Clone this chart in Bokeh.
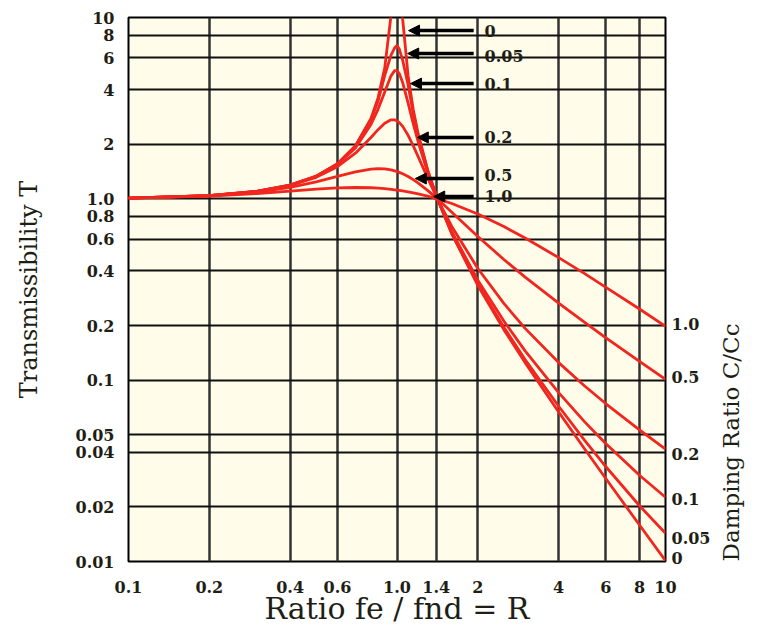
from math import pi
from bokeh.plotting import figure
from bokeh.models import (FixedTicker, LabelSet, ColumnDataSource, Arrow,
                          NormalHead, Range1d, LogAxis)
from bokeh.core.properties import value
from bokeh.embed import file_html
from bokeh.resources import INLINE

# ---------------- data ----------------
ratio = [0.1, 0.2, 0.3, 0.4, 0.5, 0.6, 0.7, 0.8, 0.85, 0.9, 0.95, 0.98, 1.0, 1.02,
         1.05, 1.1, 1.15, 1.2, 1.3, 1.414, 1.6, 2.0, 2.5, 3.0, 4.0, 5.0, 6.0, 8.0, 10.0]

t_0 = [1.010, 1.042, 1.099, 1.190, 1.333, 1.563, 1.961, 2.778, 3.604, 5.263, 10.26, 25.3,
       400.0, 24.8, 9.76, 4.76, 3.10, 2.273, 1.449, 1.0, 0.641, 0.333, 0.190, 0.125,
       0.0667, 0.0417, 0.0286, 0.0159, 0.0101]
t_005 = [1.010, 1.042, 1.099, 1.190, 1.332, 1.558, 1.947, 2.720, 3.458, 4.776, 6.2, 6.8,
         7.0, 6.7, 5.8, 4.244, 2.940, 2.208, 1.436, 1.0, 0.646, 0.339, 0.196, 0.130,
         0.0718, 0.0466, 0.0333, 0.0203, 0.0143]
t_01 = [1.010, 1.042, 1.099, 1.189, 1.328, 1.547, 1.909, 2.571, 3.117, 3.882, 4.766, 5.096,
        5.099, 4.908, 4.373, 3.367, 2.590, 2.052, 1.401, 1.0, 0.659, 0.356, 0.212, 0.145,
        0.0853, 0.0589, 0.0446, 0.0299, 0.0226]
t_02 = [1.010, 1.041, 1.097, 1.184, 1.314, 1.505, 1.785, 2.180, 2.407, 2.611, 2.727, 2.726,
        2.693, 2.634, 2.509, 2.241, 1.959, 1.704, 1.305, 1.0, 0.704, 0.413, 0.265, 0.193,
        0.125, 0.0929, 0.0741, 0.0532, 0.0416]
t_05 = [1.010, 1.040, 1.090, 1.158, 1.240, 1.329, 1.409, 1.460, 1.468, 1.463, 1.444, 1.428,
        1.414, 1.399, 1.374, 1.328, 1.276, 1.222, 1.114, 1.0, 0.844, 0.620, 0.463, 0.370,
        0.266, 0.208, 0.171, 0.127, 0.101]
t_10 = [1.010, 1.036, 1.070, 1.104, 1.131, 1.149, 1.155, 1.151, 1.145, 1.138, 1.129, 1.122,
        1.118, 1.114, 1.106, 1.094, 1.080, 1.066, 1.036, 1.0, 0.942, 0.825, 0.703, 0.608,
        0.474, 0.387, 0.325, 0.247, 0.198]

damping_names = ["0", "0.05", "0.1", "0.2", "0.5", "1.0"]

x_ticks = [0.1, 0.2, 0.4, 0.6, 1.0, 1.4, 2.0, 4.0, 6.0, 8.0, 10.0]
x_tick_labels = ["0.1", "0.2", "0.4", "0.6", "1.0", "1.4", "2", "4", "6", "8", "10"]
y_ticks = [0.01, 0.02, 0.04, 0.05, 0.1, 0.2, 0.4, 0.6, 0.8, 1.0, 2.0, 4.0, 6.0, 8.0, 10.0]
y_tick_labels = ["0.01", "0.02", "0.04", "0.05", "0.1", "0.2", "0.4", "0.6", "0.8", "1.0",
                 "2", "4", "6", "8", "10"]

x_title = "Ratio fe / fnd = R"
y_title = "Transmissibility T"
right_title = "Damping Ratio C/Cc"

# ---------------- annotation placement ----------------
arrow_y = [8.47, 6.33, 4.32, 2.18, 1.294, 1.03]
arrow_x_end = [1.104, 1.096, 1.123, 1.19, 1.17, 1.37]
arrow_x_start = 1.93
top_label_y = [8.47, 6.17, 4.32, 2.18, 1.345, 1.043]
top_label_x = 2.12
right_label_y = [0.0105, 0.01356, 0.02224, 0.0394, 0.1035, 0.2028]

FONT = "DejaVu Serif"
TXT = "#1e1e14"
BG = "#FFFCEA"
RED = "#F0261F"

p = figure(width=772, height=631, x_axis_type="log", y_axis_type="log",
           x_range=Range1d(0.1, 10), y_range=Range1d(0.01, 10),
           output_backend="svg", toolbar_location=None,
           min_border_left=128, min_border_right=107, min_border_top=17,
           min_border_bottom=70)
p.background_fill_color = BG
p.border_fill_color = "white"
p.outline_line_color = "black"
p.outline_line_width = 2

p.xgrid.ticker = FixedTicker(ticks=x_ticks)
p.ygrid.ticker = FixedTicker(ticks=y_ticks)
p.xgrid.grid_line_color = "#333333"
p.xgrid.grid_line_width = 2.5
p.ygrid.grid_line_color = "#111111"
p.ygrid.grid_line_width = 2


def style_axis(ax, standoff):
    ax.axis_line_color = None
    ax.major_tick_line_color = None
    ax.minor_tick_line_color = None
    ax.major_tick_in = 0
    ax.major_tick_out = 0
    ax.major_label_standoff = standoff
    ax.major_label_text_font = FONT
    ax.major_label_text_font_style = "bold"
    ax.major_label_text_font_size = "16px"
    ax.major_label_text_color = TXT
    ax.axis_label_text_font = FONT
    ax.axis_label_text_font_style = "normal"
    ax.axis_label_text_color = TXT


xa = p.xaxis[0]
xa.ticker = FixedTicker(ticks=x_ticks)
xa.major_label_overrides = dict(zip(x_ticks, x_tick_labels))
style_axis(xa, 19)
xa.axis_label = x_title
xa.axis_label_text_font_size = "30px"
xa.axis_label_standoff = -5

ya = p.yaxis[0]
ya.ticker = FixedTicker(ticks=y_ticks)
ya.major_label_overrides = dict(zip(y_ticks, y_tick_labels))
style_axis(ya, 14)
ya.axis_label = y_title
ya.axis_label_text_font_size = "24px"
ya.axis_label_standoff = 30

ra = LogAxis(ticker=FixedTicker(ticks=right_label_y),
             major_label_overrides=dict(zip(right_label_y, damping_names)))
style_axis(ra, 6)
ra.axis_label = right_title
ra.axis_label_text_font_size = "23px"
ra.axis_label_standoff = 18
try:
    ra.axis_label_orientation = pi / 2
except AttributeError:
    pass
try:
    ra.axis_label_align = "start"
except (AttributeError, ValueError):
    pass
p.add_layout(ra, "right")

for ys in [t_0, t_005, t_01, t_02, t_05, t_10]:
    p.line(ratio, ys, line_color=RED, line_width=2.8, line_join="round")

# top damping labels with arrows (inside the plot area)
top_src = ColumnDataSource(dict(y=top_label_y, text=damping_names))
p.add_layout(LabelSet(x=top_label_x, y="y", text="text", source=top_src,
                      text_align="left", text_baseline="middle",
                      text_font=value(FONT), text_font_style="bold",
                      text_font_size="16px", text_color=TXT))
for yv, xe in zip(arrow_y, arrow_x_end):
    p.add_layout(Arrow(end=NormalHead(size=11, fill_color="black", line_color="black"),
                       x_start=arrow_x_start, y_start=yv, x_end=xe, y_end=yv,
                       line_color="black", line_width=3.5))

open("out.html", "w").write(file_html(p, INLINE))
